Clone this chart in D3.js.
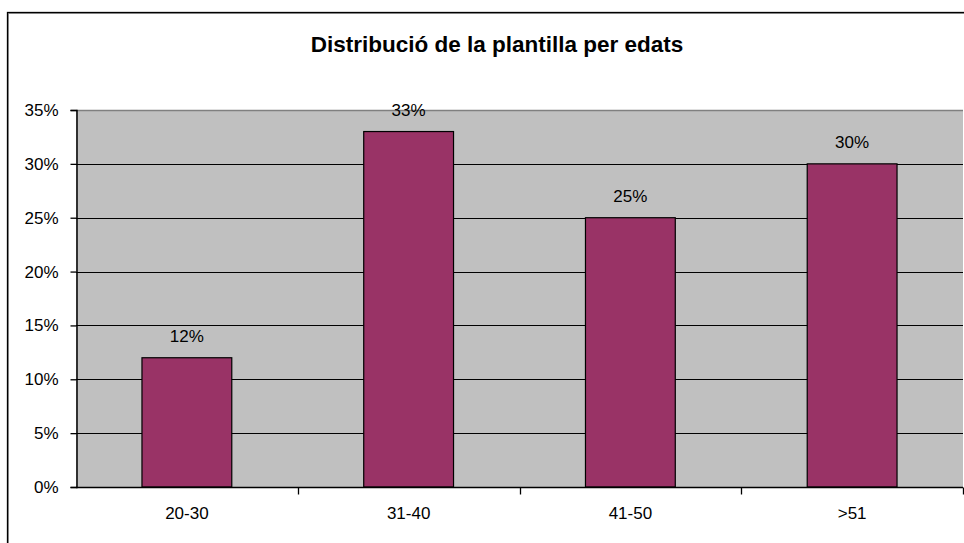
<!DOCTYPE html>
<html>
<head>
<meta charset="utf-8">
<script src="https://cdn.jsdelivr.net/npm/d3@7"></script>
<style>
  html, body { margin: 0; padding: 0; background: #fff; }
  svg { display: block; font-family: "Liberation Sans", Arial, sans-serif; }
</style>
</head>
<body>
<svg id="chart" width="964" height="543"></svg>
<script>
// Age distribution of the workforce
const categories = ["20-30", "31-40", "41-50", ">51"];
const shares = [0.12, 0.33, 0.25, 0.30];
const yTicks = [0, 0.05, 0.10, 0.15, 0.20, 0.25, 0.30, 0.35];
const chartTitle = "Distribució de la plantilla per edats";

const svg = d3.select("#chart");
const plot = { left: 76, right: 963, top: 110, bottom: 487 };

// Outer chart frame
svg.append("rect")
  .attr("x", 8.5).attr("y", 13.5)
  .attr("width", 1000).attr("height", 600)
  .attr("fill", "none").attr("stroke", "#9a9a9a").attr("stroke-width", 1);
svg.append("rect")
  .attr("x", 7.5).attr("y", 12.5)
  .attr("width", 1000).attr("height", 600)
  .attr("fill", "none").attr("stroke", "#000").attr("stroke-width", 1.3);

// Title
svg.append("text")
  .attr("x", 497).attr("y", 52)
  .attr("text-anchor", "middle")
  .attr("font-size", 22.5).attr("font-weight", "bold")
  .attr("fill", "#000")
  .text(chartTitle);

const x = d3.scaleBand().domain(categories).range([plot.left, plot.right]).padding(0);
const y = d3.scaleLinear().domain([0, 0.35]).range([plot.bottom, plot.top]);
const barW = x.bandwidth() * 0.405;

// Plot background
svg.append("rect")
  .attr("x", plot.left).attr("y", plot.top)
  .attr("width", plot.right - plot.left).attr("height", plot.bottom - plot.top)
  .attr("fill", "#c0c0c0");

// Horizontal gridlines
svg.append("g")
  .selectAll("line")
  .data(yTicks.filter(t => t > 0 && t < 0.35))
  .join("line")
  .attr("x1", plot.left).attr("x2", plot.right)
  .attr("y1", d => Math.round(y(d)) + 0.5).attr("y2", d => Math.round(y(d)) + 0.5)
  .attr("stroke", "#000").attr("stroke-width", 1);

// Top border of the plot area
svg.append("line")
  .attr("x1", plot.left).attr("x2", plot.right)
  .attr("y1", plot.top + 0.5).attr("y2", plot.top + 0.5)
  .attr("stroke", "#808080").attr("stroke-width", 1.5);

// Bars
svg.append("g")
  .selectAll("rect")
  .data(shares)
  .join("rect")
  .attr("x", (d, i) => x(categories[i]) + x.bandwidth() / 2 - barW / 2)
  .attr("y", d => y(d))
  .attr("width", barW)
  .attr("height", d => y(0) - y(d))
  .attr("fill", "#993366")
  .attr("stroke", "#000").attr("stroke-width", 1.2);

// Value labels
svg.append("g")
  .selectAll("text")
  .data(shares)
  .join("text")
  .attr("x", (d, i) => x(categories[i]) + x.bandwidth() / 2)
  .attr("y", d => y(d) - 16)
  .attr("text-anchor", "middle")
  .attr("font-size", 17).attr("fill", "#000")
  .text(d => Math.round(d * 100) + "%");

// Y axis
const yAxis = d3.axisLeft(y)
  .tickValues(yTicks)
  .tickFormat(d => Math.round(d * 100) + "%")
  .tickSize(6).tickPadding(12);
const gy = svg.append("g")
  .attr("transform", `translate(${plot.left + 0.5},0)`)
  .call(yAxis);
gy.select(".domain").attr("stroke", "#000").attr("stroke-width", 1.5);
gy.selectAll(".tick line").attr("stroke", "#000").attr("stroke-width", 1.3);
gy.selectAll(".tick text")
  .attr("font-family", "Liberation Sans, Arial, sans-serif")
  .attr("font-size", 17).attr("fill", "#000");

// X axis with ticks at category boundaries
const gx = svg.append("g")
  .attr("transform", `translate(0,${plot.bottom + 0.5})`);
gx.append("line")
  .attr("x1", plot.left).attr("x2", plot.right)
  .attr("stroke", "#000").attr("stroke-width", 1.5);
gx.selectAll("line.tick")
  .data(categories.slice(1).concat(["end"]))
  .join("line")
  .attr("class", "tick")
  .attr("x1", (d, i) => Math.round(plot.left + (i + 1) * x.step()) + 0.5)
  .attr("x2", (d, i) => Math.round(plot.left + (i + 1) * x.step()) + 0.5)
  .attr("y1", 0).attr("y2", 7)
  .attr("stroke", "#000").attr("stroke-width", 1.3);
gx.selectAll("text")
  .data(categories)
  .join("text")
  .attr("x", d => x(d) + x.bandwidth() / 2)
  .attr("y", 31)
  .attr("text-anchor", "middle")
  .attr("font-size", 17).attr("fill", "#000")
  .text(d => d);
</script>
</body>
</html>
